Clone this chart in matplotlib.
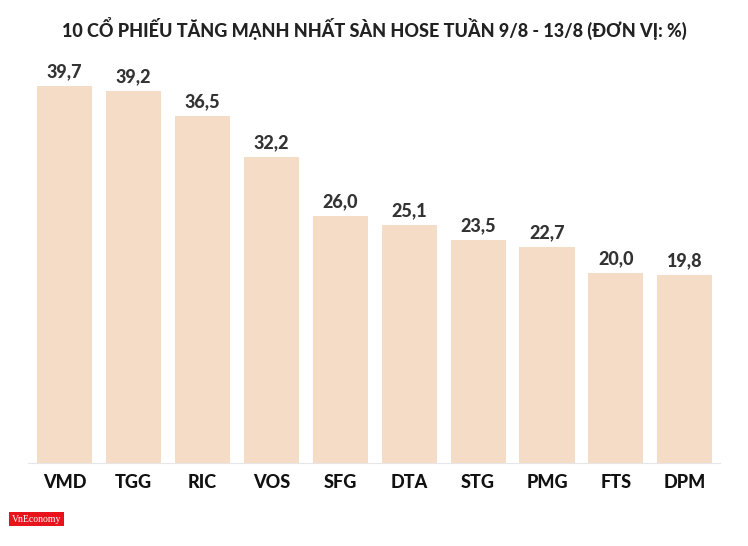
import matplotlib
matplotlib.use("Agg")
import matplotlib.pyplot as plt

plt.rcParams["font.family"] = ["Lato", "DejaVu Sans"]

tickers = ["VMD", "TGG", "RIC", "VOS", "SFG", "DTA", "STG", "PMG", "FTS", "DPM"]
gains = [39.7, 39.2, 36.5, 32.2, 26.0, 25.1, 23.5, 22.7, 20.0, 19.8]
title = "10 CỔ PHIẾU TĂNG MẠNH NHẤT SÀN HOSE TUẦN 9/8 - 13/8 (ĐƠN VỊ: %)"

W, H = 748, 546
fig = plt.figure(figsize=(W / 100, H / 100), dpi=100)
ax = fig.add_axes([28 / W, 1 - 463 / H, (720 - 28) / W, (463 - 60) / H])

x = range(len(tickers))
ax.bar(x, gains, width=0.8, color="#F5DCC6")
for xi, v in zip(x, gains):
    ax.text(xi, v + 0.6, f"{v:.1f}".replace(".", ","), ha="center", va="bottom",
            fontsize=13, fontweight="black", color="#333333")

ax.set_xlim(-0.53, 9.51)
ax.set_ylim(0, (463 - 60) / 9.5)
ax.set_xticks(list(x))
ax.set_xticklabels(tickers, fontsize=13, fontweight="black", color="#111111")
ax.tick_params(axis="x", length=0, pad=8)
ax.set_yticks([])
for s in ["top", "right", "left"]:
    ax.spines[s].set_visible(False)
ax.spines["bottom"].set_color("#e6e6e6")

fig.text(0.5, 1 - 28 / H, title, ha="center", va="center", fontsize=13,
         fontweight="black", color="#222222")
fig.text(12 / W, 1 - 519 / H, "VnEconomy", ha="left", va="center", fontsize=7,
         family="Liberation Serif", color="white",
         bbox=dict(boxstyle="square,pad=0.3", fc="#e8141c", ec="none"))

fig.savefig("out.png", dpi=100)
